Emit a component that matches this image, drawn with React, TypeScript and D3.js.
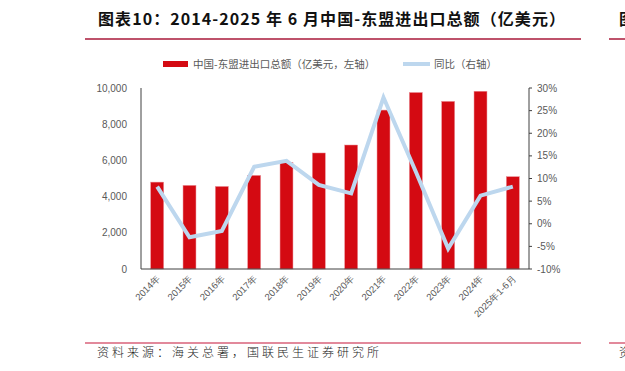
import React from 'react';
import * as d3 from 'd3';

const categories = ['2014年', '2015年', '2016年', '2017年', '2018年', '2019年', '2020年', '2021年', '2022年', '2023年', '2024年', '2025年1-6月'];
const tradeTotal = [4800, 4620, 4560, 5170, 5880, 6410, 6850, 8780, 9750, 9260, 9820, 5100];
const yoyGrowth = [8.2, -3.0, -1.6, 12.6, 13.9, 8.6, 6.7, 27.9, 11.5, -5.5, 6.2, 8.2];
const leftTicks = [0, 2000, 4000, 6000, 8000, 10000];
const rightTicks = [-10, -5, 0, 5, 10, 15, 20, 25, 30];

const title = '图表10：2014-2025 年 6 月中国-东盟进出口总额（亿美元）';
const source = '资料来源：海关总署，国联民生证券研究所';
const barLabel = '中国-东盟进出口总额（亿美元，左轴）';
const lineLabel = '同比（右轴）';

const cjk = '"Noto Sans CJK SC", sans-serif';
const latin = '"Liberation Sans", Arial, sans-serif';

const App = () => {
  const W = 625;
  const H = 371;
  const left = 141;
  const right = 529;
  const top = 88;
  const bottom = 269;

  const x = d3.scaleBand<string>().domain(categories).range([left, right]).padding(0.6).paddingOuter(0.3);
  const yL = d3.scaleLinear().domain([0, 10000]).range([bottom, top]);
  const yR = d3.scaleLinear().domain([-10, 30]).range([bottom, top]);
  const fmt = d3.format(',');

  const line = d3.line<number>()
    .x((_, i) => x(categories[i])! + x.bandwidth() / 2)
    .y(d => yR(d));

  return (
    <svg width={W} height={H} style={{ position: 'absolute', left: 0, top: 0, background: '#fff' }}>
      {/* 标题 */}
      <text x={98} y={25} fontFamily={cjk} fontWeight={700} fontSize={16} fill="#111"
        textLength={467} lengthAdjust="spacing">{title}</text>
      <line x1={85} x2={581} y1={39} y2={39} stroke="#a8193a" strokeWidth={1.5} />
      <line x1={609} x2={625} y1={39} y2={39} stroke="#a8193a" strokeWidth={1.5} />
      <text x={619} y={25} fontFamily={cjk} fontWeight={700} fontSize={16} fill="#111">图</text>

      {/* 图例 */}
      <rect x={163} y={61} width={25} height={6} fill="#d40a12" />
      <text x={193} y={68} fontFamily={cjk} fontSize={10.5} fill="#595959">{barLabel}</text>
      <line x1={403} x2={430} y1={64} y2={64} stroke="#bdd7ee" strokeWidth={4} />
      <text x={434} y={68} fontFamily={cjk} fontSize={10.5} fill="#595959">{lineLabel}</text>

      {/* 柱 */}
      {tradeTotal.map((v, i) => (
        <rect key={categories[i]} x={x(categories[i])} y={yL(v)} width={x.bandwidth()}
          height={yL(0) - yL(v)} fill="#d40a12" stroke="#ea8c94" strokeWidth={0.5} />
      ))}

      {/* 折线 */}
      <path d={line(yoyGrowth) ?? ''} fill="none" stroke="#bdd7ee" strokeWidth={4} strokeLinejoin="miter" />

      {/* 坐标轴 */}
      <line x1={left} x2={left} y1={top} y2={bottom} stroke="#404040" strokeWidth={1} />
      <line x1={right} x2={right} y1={top} y2={bottom} stroke="#404040" strokeWidth={1} />
      <line x1={left} x2={right} y1={bottom} y2={bottom} stroke="#404040" strokeWidth={1} />
      {leftTicks.map(t => (
        <text key={t} x={127} y={yL(t) + 3.5} textAnchor="end" fontFamily={latin} fontSize={10} fill="#595959">{fmt(t)}</text>
      ))}
      {rightTicks.map(t => (
        <g key={t}>
          <line x1={right} x2={right + 3} y1={yR(t)} y2={yR(t)} stroke="#404040" />
          <text x={537} y={yR(t) + 3.5} fontFamily={latin} fontSize={10} fill="#595959">{t}%</text>
        </g>
      ))}
      {categories.map(c => {
        const cx = x(c)! + x.bandwidth() / 2 + 4;
        return (
          <text key={c} transform={`translate(${cx},${279}) rotate(-45)`} textAnchor="end"
            fontFamily={latin} fontSize={9.5} fill="#595959">{c}</text>
        );
      })}

      {/* 资料来源 */}
      <line x1={85} x2={581} y1={343} y2={343} stroke="#d9627a" strokeWidth={1.5} />
      <line x1={609} x2={625} y1={343} y2={343} stroke="#d9627a" strokeWidth={1.5} />
      <text x={97} y={357} fontFamily={cjk} fontWeight={300} fontSize={12} fill="#222"
        textLength={282} lengthAdjust="spacing">{source}</text>
      <text x={619} y={357} fontFamily={cjk} fontWeight={300} fontSize={12} fill="#222">资</text>
    </svg>
  );
};

export default App;
